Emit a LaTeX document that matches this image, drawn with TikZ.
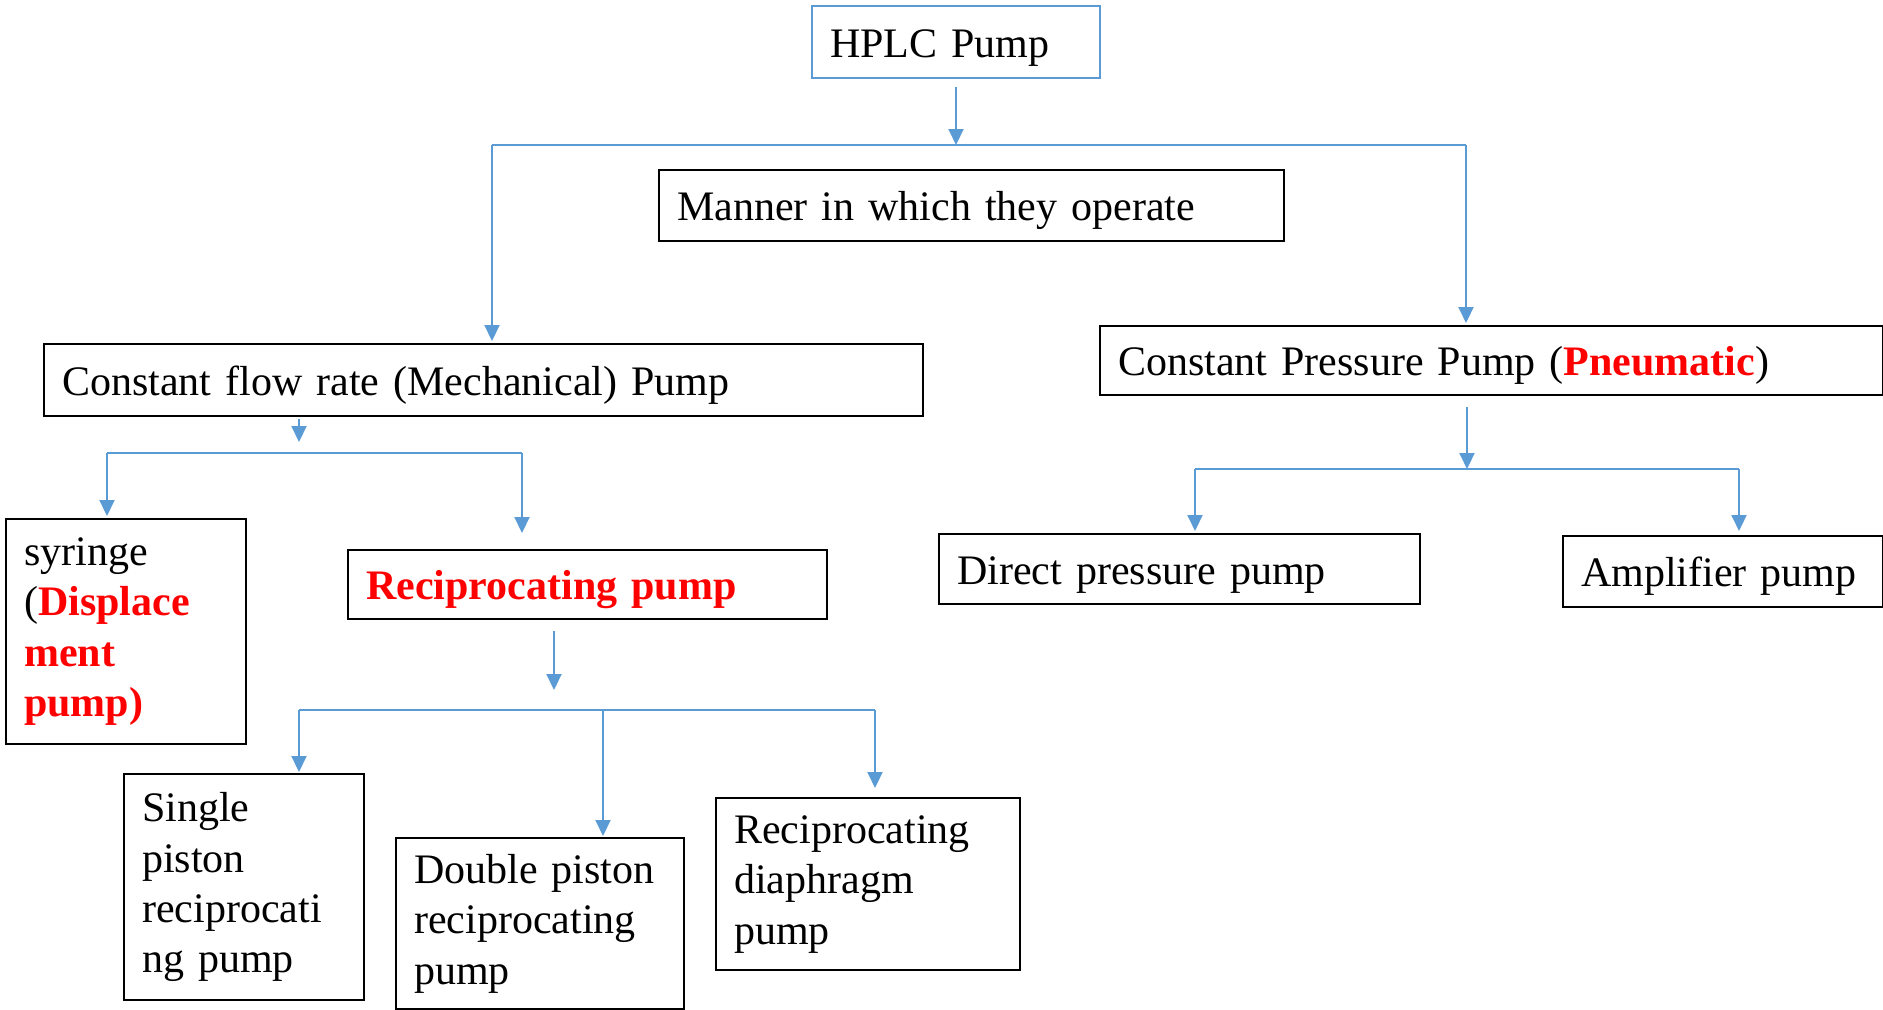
\documentclass[tikz,border=0pt]{standalone}
\usepackage{fontspec}
\setmainfont{Liberation Serif}
\usetikzlibrary{arrows.meta,positioning,calc}
\definecolor{linkblue}{HTML}{5B9BD5}
\definecolor{hilite}{HTML}{FF0000}
\newcommand{\hot}[1]{\textcolor{hilite}{\textbf{#1}}}
\tikzset{
  box/.style={
    rectangle,
    draw=black,
    line width=1.2pt,
    anchor=north west,
    align=left,
    inner xsep=9pt,
    inner ysep=0pt,
    font=\fontsize{21}{25.2}\selectfont
  },
  onebox/.style={box, text height=17pt, text depth=2pt},
  rootbox/.style={onebox, draw=linkblue, line width=1pt},
  link/.style={
    -{Triangle[length=8pt,width=7.5pt]},
    draw=linkblue,
    line width=1pt
  },
  rail/.style={draw=linkblue, line width=1pt}
}

\begin{document}
\begin{tikzpicture}[x=0.5pt, y=-0.5pt]
  \useasboundingbox (0,0) rectangle (1883,1009);

  %====================================================================
  % Boxes (placed by their top-left corner, in pixel units)
  %====================================================================
  \node[rootbox, text width=126pt, minimum height=36pt] (hplc) at (811,5) {HPLC Pump};
  \node[onebox, text width=294.5pt, minimum height=35.5pt] (manner) at (658,169)
    {Manner in which they operate};

  \node[onebox, text width=421.5pt, minimum height=36pt] (flow) at (43,343)
    {Constant flow rate (Mechanical) Pump};
  \node[onebox, text width=373.5pt, minimum height=34.5pt] (pressure) at (1099,325)
    {Constant Pressure Pump (\hot{Pneumatic})};

  \node[box, text width=102pt, minimum height=112.5pt] (syringe) at (5,518)
    {syringe\\(\hot{Displace}\\\hot{ment}\\\hot{pump)}};
  \node[onebox, text width=221.5pt, minimum height=34.5pt] (recip) at (347,549)
    {\hot{Reciprocating pump}};

  \node[box, text width=102pt, minimum height=113pt] (single) at (123,773)
    {Single\\piston\\reciprocati\\ng pump};
  \node[box, text width=126pt, minimum height=85.5pt] (double) at (395,837)
    {Double piston\\reciprocating\\pump};
  \node[box, text width=134pt, minimum height=86pt] (diaphragm) at (715,797)
    {Reciprocating\\diaphragm\\pump};

  \node[onebox, text width=222.5pt, minimum height=35pt] (direct) at (938,533)
    {Direct pressure pump};
  \node[onebox, text width=142pt, minimum height=35.5pt] (amp) at (1562,535)
    {Amplifier pump};

  %====================================================================
  % Split points
  %====================================================================
  \coordinate (tl) at (492,145);
  \coordinate (tr) at (1466,145);
  \coordinate (fa) at (299,442);
  \coordinate (fl) at (107,453);
  \coordinate (fr) at (522,453);
  \coordinate (ra) at (554,690);
  \coordinate (rl) at (299,710);
  \coordinate (rm) at (603,710);
  \coordinate (rr) at (875,710);
  \coordinate (pa) at (1467,469);
  \coordinate (pl) at (1195,469);
  \coordinate (pr) at (1739,469);

  %====================================================================
  % Connectors
  %====================================================================
  % HPLC pump -> two families
  \draw[link, shorten <=4pt] (hplc.south) -- (hplc.south |- tl);
  \draw[rail] (tl) -- (tr);
  \draw[link, shorten >=1pt] (tl) -- (tl |- flow.north);
  \draw[link, shorten >=1pt] (tr) -- (tr |- pressure.north);

  % constant flow rate
  \draw[link, shorten <=1pt] (fa |- flow.south) -- (fa);
  \draw[rail] (fl) -- (fr);
  \draw[link, shorten >=1pt] (fl) -- (fl |- syringe.north);
  \draw[link, shorten >=8pt] (fr) -- (fr |- recip.north);

  % reciprocating
  \draw[link, shorten <=5.5pt] (ra |- recip.south) -- (ra);
  \draw[rail] (rl) -- (rr);
  \draw[link, shorten >=0.5pt] (rl) -- (rl |- single.north);
  \draw[link, shorten >=0.5pt] (rm) -- (rm |- double.north);
  \draw[link, shorten >=4.5pt] (rr) -- (rr |- diaphragm.north);

  % constant pressure
  \draw[link, shorten <=5.5pt] (pa |- pressure.south) -- (pa);
  \draw[rail] (pl) -- (pr);
  \draw[link, shorten >=1pt] (pl) -- (pl |- direct.north);
  \draw[link, shorten >=2pt] (pr) -- (pr |- amp.north);

\end{tikzpicture}
\end{document}
